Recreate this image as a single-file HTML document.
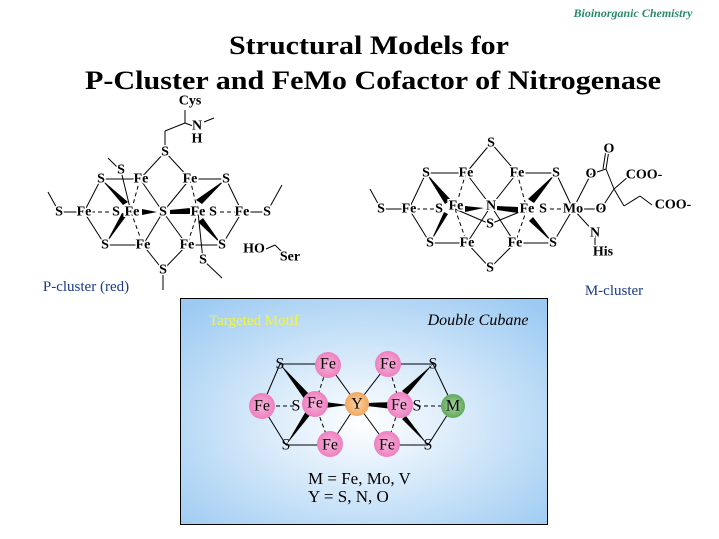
<!DOCTYPE html>
<html><head><meta charset="utf-8"><style>
html,body{margin:0;padding:0;background:#fff;}
svg{display:block;font-family:"Liberation Serif",serif;}
.a{font-size:14px;font-weight:bold;text-anchor:middle;dominant-baseline:central;fill:#000;stroke:#fff;stroke-width:3px;paint-order:stroke;}
.m{font-size:16px;text-anchor:middle;dominant-baseline:central;fill:#000;}
line{stroke:#000;stroke-width:1;}
.d{stroke-dasharray:4 3;}
</style></head><body>
<svg width="719" height="539" viewBox="0 0 719 539" xmlns="http://www.w3.org/2000/svg">
<defs>
<radialGradient id="bg" cx="0.5" cy="0.55" r="0.7">
<stop offset="0" stop-color="#ffffff"/><stop offset="1" stop-color="#9ccaf2"/></radialGradient>
<radialGradient id="pk"><stop offset="0" stop-color="#f6b6dc"/><stop offset="1" stop-color="#ee7fc0"/></radialGradient>
<radialGradient id="or"><stop offset="0" stop-color="#fbd3a0"/><stop offset="1" stop-color="#f0a860"/></radialGradient>
<radialGradient id="gr"><stop offset="0" stop-color="#a6d4a0"/><stop offset="1" stop-color="#62a85c"/></radialGradient>
</defs>
<text x="633" y="17" font-size="12" font-style="italic" font-weight="bold" fill="#2a8a6a" text-anchor="middle">Bioinorganic Chemistry</text>
<text x="369" y="54" font-size="26" font-weight="bold" text-anchor="middle" textLength="280" lengthAdjust="spacingAndGlyphs">Structural Models for</text>
<text x="373" y="89" font-size="26" font-weight="bold" text-anchor="middle" textLength="576" lengthAdjust="spacingAndGlyphs">P-Cluster and FeMo Cofactor of Nitrogenase</text>

<!-- P-cluster lines -->
<g>
<line x1="165" y1="152" x2="165" y2="131"/><line x1="165" y1="131" x2="185" y2="123"/><line x1="185" y1="123" x2="185" y2="110"/><line x1="185" y1="123" x2="193" y2="126"/><line x1="204" y1="122" x2="214" y2="118"/>
<line x1="165" y1="152" x2="140" y2="179"/><line x1="165" y1="152" x2="190" y2="179"/>
<line x1="101" y1="179" x2="140" y2="179"/><line x1="190" y1="179" x2="226" y2="179"/>
<line x1="101" y1="179" x2="84" y2="212"/><line x1="84" y1="212" x2="105" y2="245"/>
<line x1="226" y1="179" x2="242" y2="212"/><line x1="242" y1="212" x2="222" y2="245"/>
<line x1="59" y1="212" x2="84" y2="212"/><line x1="242" y1="212" x2="267" y2="212"/>
<line x1="84" y1="212" x2="116" y2="212" class="d"/><line x1="213" y1="212" x2="242" y2="212" class="d"/>
<line x1="48" y1="192" x2="59" y2="212"/><line x1="267" y1="212" x2="282" y2="185"/>
<line x1="105" y1="245" x2="143" y2="245"/><line x1="187" y1="245" x2="222" y2="245"/>
<line x1="140" y1="179" x2="163" y2="212"/><line x1="190" y1="179" x2="163" y2="212"/>
<line x1="143" y1="245" x2="163" y2="212"/><line x1="187" y1="245" x2="163" y2="212"/>
<line x1="143" y1="245" x2="163" y2="270"/><line x1="187" y1="245" x2="163" y2="270"/>
<line x1="163" y1="270" x2="163" y2="290"/>
<line x1="121" y1="171" x2="108" y2="158"/><line x1="121" y1="171" x2="131" y2="212"/>
<line x1="140" y1="179" x2="131" y2="212" class="d"/><line x1="131" y1="212" x2="143" y2="245" class="d"/>
<line x1="190" y1="179" x2="198" y2="212" class="d"/><line x1="198" y1="212" x2="187" y2="245" class="d"/>
<line x1="198" y1="212" x2="203" y2="260"/><line x1="203" y1="260" x2="222" y2="278"/>
<line x1="266" y1="249" x2="275" y2="245"/><line x1="275" y1="245" x2="283" y2="253"/>
<polygon points="101,179 128,202 123,205" /><polygon points="105,245 127,215 122,213"/>
<polygon points="226,179 202,204 196,200"/><polygon points="222,245 203,218 198,222"/>
<polygon points="142,209 142,215 157,212"/><polygon points="170,210 170,214 190,214 190,208"/>
</g>
<text class="a" x="190" y="101">Cys</text><text class="a" x="197" y="126">N</text><text class="a" x="197" y="139">H</text>
<text class="a" x="165" y="152">S</text>
<text class="a" x="101" y="179">S</text><text class="a" x="121" y="170">S</text><text class="a" x="141" y="179">Fe</text><text class="a" x="190" y="179">Fe</text><text class="a" x="226" y="179">S</text>
<text class="a" x="59" y="212">S</text><text class="a" x="84" y="212">Fe</text><text class="a" x="116" y="212">S</text><text class="a" x="132" y="212">Fe</text><text class="a" x="163" y="212">S</text><text class="a" x="198" y="212">Fe</text><text class="a" x="213" y="212">S</text><text class="a" x="242" y="212">Fe</text><text class="a" x="267" y="212">S</text>
<text class="a" x="105" y="245">S</text><text class="a" x="143" y="245">Fe</text><text class="a" x="187" y="245">Fe</text><text class="a" x="222" y="245">S</text>
<text class="a" x="254" y="249">HO</text><text class="a" x="290" y="257">Ser</text><text class="a" x="203" y="260">S</text><text class="a" x="163" y="270">S</text>
<text x="86" y="291" font-size="15" fill="#1a3a8a" text-anchor="middle">P-cluster (red)</text>

<!-- M-cluster -->
<g>
<line x1="491" y1="143" x2="466" y2="173"/><line x1="491" y1="143" x2="517" y2="173"/>
<line x1="426" y1="173" x2="466" y2="173"/><line x1="517" y1="173" x2="556" y2="173"/>
<line x1="426" y1="173" x2="409" y2="209"/><line x1="409" y1="209" x2="430" y2="243"/>
<line x1="556" y1="173" x2="573" y2="209"/><line x1="573" y1="209" x2="553" y2="243"/>
<line x1="381" y1="209" x2="409" y2="209"/><line x1="370" y1="189" x2="381" y2="209"/>
<line x1="409" y1="209" x2="439" y2="209" class="d"/><line x1="543" y1="209" x2="573" y2="209" class="d"/>
<line x1="573" y1="209" x2="601" y2="209"/><line x1="573" y1="209" x2="591" y2="174"/><line x1="573" y1="209" x2="595" y2="233"/><line x1="595" y1="233" x2="595" y2="245"/>
<line x1="430" y1="243" x2="467" y2="243"/><line x1="515" y1="243" x2="553" y2="243"/>
<line x1="466" y1="173" x2="491" y2="206"/><line x1="517" y1="173" x2="491" y2="206"/>
<line x1="467" y1="243" x2="491" y2="206"/><line x1="515" y1="243" x2="491" y2="206"/>
<line x1="467" y1="243" x2="490" y2="268"/><line x1="515" y1="243" x2="490" y2="268"/>
<line x1="455" y1="209" x2="490" y2="224"/><line x1="527" y1="209" x2="490" y2="224"/>
<line x1="466" y1="173" x2="455" y2="209" class="d"/><line x1="455" y1="209" x2="467" y2="243" class="d"/>
<line x1="517" y1="173" x2="527" y2="209" class="d"/><line x1="527" y1="209" x2="515" y2="243" class="d"/>
<line x1="591" y1="174" x2="606" y2="169"/><line x1="606" y1="169" x2="609" y2="150"/><line x1="603" y1="169" x2="606" y2="150"/>
<line x1="606" y1="169" x2="614" y2="189"/><line x1="614" y1="189" x2="629" y2="176"/><line x1="614" y1="189" x2="601" y2="209"/>
<line x1="614" y1="189" x2="624" y2="206"/><line x1="624" y1="206" x2="640" y2="196"/><line x1="640" y1="196" x2="652" y2="205"/>
<polygon points="426,173 451,200 445,204"/><polygon points="430,243 448,214 444,212"/>
<polygon points="556,173 534,203 528,199"/><polygon points="553,243 533,217 529,221"/>
<polygon points="465,206 465,212 484,208"/><polygon points="497,206 497,210 518,213 518,207"/>
</g>
<text class="a" x="491" y="143">S</text>
<text class="a" x="426" y="173">S</text><text class="a" x="466" y="173">Fe</text><text class="a" x="517" y="173">Fe</text><text class="a" x="556" y="173">S</text>
<text class="a" x="609" y="149">O</text><text class="a" x="591" y="174">O</text><text class="a" x="644" y="175">COO-</text>
<text class="a" x="381" y="209">S</text><text class="a" x="409" y="209">Fe</text><text class="a" x="439" y="209">S</text><text class="a" x="456" y="206">Fe</text><text class="a" x="491" y="206">N</text><text class="a" x="527" y="209">Fe</text><text class="a" x="543" y="209">S</text><text class="a" x="573" y="209">Mo</text><text class="a" x="601" y="209">O</text><text class="a" x="673" y="205">COO-</text>
<text class="a" x="490" y="224">S</text>
<text class="a" x="430" y="243">S</text><text class="a" x="467" y="243">Fe</text><text class="a" x="515" y="243">Fe</text><text class="a" x="553" y="243">S</text>
<text class="a" x="595" y="233">N</text><text class="a" x="603" y="252">His</text><text class="a" x="490" y="268">S</text>
<text x="614" y="295" font-size="15" fill="#1a3a8a" text-anchor="middle">M-cluster</text>

<!-- motif box -->
<rect x="180.5" y="298.5" width="367" height="226" fill="url(#bg)" stroke="#000"/>
<text x="254" y="325" font-size="15" fill="#f4f43a" text-anchor="middle">Targeted Motif</text>
<text x="478" y="325" font-size="16" font-style="italic" text-anchor="middle">Double Cubane</text>
<g>
<line x1="280" y1="364" x2="328" y2="364"/><line x1="388" y1="364" x2="433" y2="364"/>
<line x1="286" y1="445" x2="330" y2="445"/><line x1="387" y1="445" x2="428" y2="445"/>
<line x1="280" y1="364" x2="262" y2="406"/><line x1="262" y1="406" x2="286" y2="445"/>
<line x1="433" y1="364" x2="453" y2="406"/><line x1="453" y1="406" x2="428" y2="445"/>
<line x1="262" y1="406" x2="296" y2="406" class="d"/><line x1="417" y1="406" x2="453" y2="406" class="d"/>
<line x1="328" y1="364" x2="357" y2="404"/><line x1="388" y1="364" x2="357" y2="404"/>
<line x1="330" y1="445" x2="357" y2="404"/><line x1="387" y1="445" x2="357" y2="404"/>
<line x1="328" y1="364" x2="315" y2="404" class="d"/><line x1="315" y1="404" x2="330" y2="445" class="d"/>
<line x1="388" y1="364" x2="400" y2="404" class="d"/><line x1="400" y1="404" x2="387" y2="445" class="d"/>
<polygon points="280,364 311,396 305,400"/><polygon points="286,445 306,411 311,414"/>
<polygon points="433,364 407,395 402,391"/><polygon points="428,445 406,416 402,419"/>
<polygon points="325,402 325,408 348,405"/><polygon points="367,403 367,406 392,409 392,402"/>
</g>
<circle cx="328" cy="365" r="13" fill="url(#pk)"/><circle cx="388" cy="364" r="13" fill="url(#pk)"/>
<circle cx="262" cy="406" r="13" fill="url(#pk)"/><circle cx="315" cy="404" r="13" fill="url(#pk)"/>
<circle cx="400" cy="405" r="13" fill="url(#pk)"/><circle cx="330" cy="444" r="13" fill="url(#pk)"/><circle cx="387" cy="444" r="13" fill="url(#pk)"/>
<circle cx="357" cy="404" r="12" fill="url(#or)"/><circle cx="453" cy="406" r="12" fill="url(#gr)"/>
<text class="m" x="280" y="364">S</text><text class="m" x="328" y="364">Fe</text><text class="m" x="388" y="364">Fe</text><text class="m" x="433" y="364">S</text>
<text class="m" x="262" y="406">Fe</text><text class="m" x="296" y="406">S</text><text class="m" x="315" y="403">Fe</text><text class="m" x="357" y="404">Y</text><text class="m" x="399" y="405">Fe</text><text class="m" x="417" y="406">S</text><text class="m" x="453" y="406">M</text>
<text class="m" x="286" y="445">S</text><text class="m" x="330" y="445">Fe</text><text class="m" x="387" y="445">Fe</text><text class="m" x="428" y="445">S</text>
<text x="308" y="484" font-size="17">M = Fe, Mo, V</text>
<text x="308" y="502" font-size="17">Y = S, N, O</text>
</svg>
</body></html>
